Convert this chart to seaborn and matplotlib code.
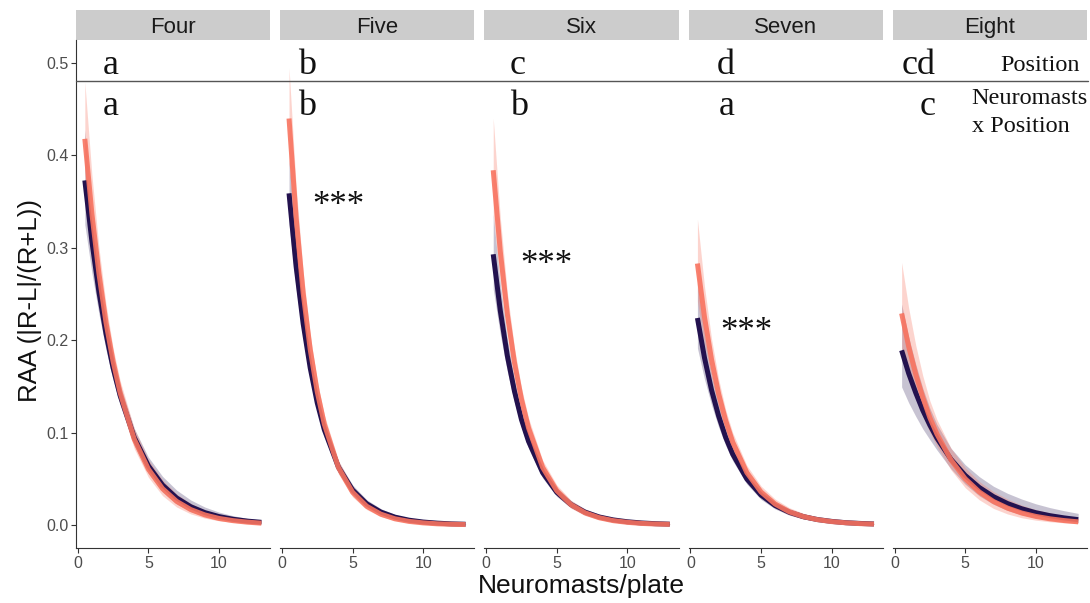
import numpy as np
import pandas as pd
import matplotlib
matplotlib.use("Agg")
import matplotlib.pyplot as plt
from matplotlib.patches import Rectangle
from matplotlib.lines import Line2D
import seaborn as sns

# ---- data -------------------------------------------------------------
PANELS = ["Four", "Five", "Six", "Seven", "Eight"]
PLATE = [0.5, 1, 1.5, 2, 2.5, 3, 4, 5, 6, 7, 8, 9, 10, 11, 12, 13]

# predicted RAA for each series (dark = series A, light = series B)
four_a = [0.373, 0.307, 0.252, 0.207, 0.170, 0.140, 0.0946, 0.0640, 0.0432, 0.0292, 0.0197, 0.0133, 0.0090, 0.0061, 0.0041, 0.0028]
four_b = [0.418, 0.337, 0.272, 0.219, 0.177, 0.143, 0.0928, 0.0604, 0.0393, 0.0255, 0.0166, 0.0108, 0.0070, 0.0046, 0.0030, 0.0019]
five_a = [0.359, 0.280, 0.218, 0.170, 0.132, 0.103, 0.0624, 0.0378, 0.0229, 0.0139, 0.0084, 0.0051, 0.0031, 0.0019, 0.0011, 0.0007]
five_b = [0.440, 0.333, 0.251, 0.190, 0.144, 0.109, 0.0620, 0.0354, 0.0202, 0.0116, 0.0066, 0.0038, 0.0022, 0.0012, 0.0007, 0.0004]
six_a = [0.293, 0.232, 0.183, 0.145, 0.114, 0.0905, 0.0565, 0.0353, 0.0221, 0.0138, 0.0086, 0.0054, 0.0034, 0.0021, 0.0013, 0.0008]
six_b = [0.384, 0.296, 0.228, 0.176, 0.136, 0.105, 0.0622, 0.0370, 0.0220, 0.0131, 0.0078, 0.0046, 0.0028, 0.0016, 0.0010, 0.0006]
seven_a = [0.224, 0.181, 0.146, 0.118, 0.0948, 0.0765, 0.0497, 0.0323, 0.0210, 0.0137, 0.0089, 0.0058, 0.0038, 0.0024, 0.0016, 0.0010]
seven_b = [0.283, 0.225, 0.179, 0.142, 0.113, 0.0896, 0.0566, 0.0357, 0.0226, 0.0142, 0.0090, 0.0057, 0.0036, 0.0023, 0.0014, 0.0009]
eight_a = [0.189, 0.164, 0.143, 0.124, 0.108, 0.0939, 0.0709, 0.0536, 0.0405, 0.0306, 0.0231, 0.0175, 0.0132, 0.0100, 0.0076, 0.0057]
eight_b = [0.229, 0.193, 0.163, 0.138, 0.116, 0.0984, 0.0702, 0.0500, 0.0357, 0.0254, 0.0182, 0.0129, 0.0092, 0.0066, 0.0047, 0.0033]

# standard errors of the predictions on the log (link) scale
four_a_se = [0.07, 0.06, 0.05, 0.045, 0.04, 0.04, 0.05, 0.07, 0.10, 0.13, 0.16, 0.19, 0.22, 0.25, 0.28, 0.31]
four_b_se = [0.07, 0.06, 0.05, 0.045, 0.04, 0.045, 0.06, 0.08, 0.11, 0.14, 0.17, 0.20, 0.23, 0.26, 0.29, 0.32]
five_a_se = [0.05, 0.045, 0.04, 0.035, 0.035, 0.04, 0.05, 0.07, 0.09, 0.12, 0.15, 0.18, 0.21, 0.24, 0.27, 0.30]
five_b_se = [0.06, 0.05, 0.045, 0.04, 0.04, 0.045, 0.06, 0.08, 0.10, 0.13, 0.16, 0.19, 0.22, 0.25, 0.28, 0.31]
six_a_se = [0.07, 0.06, 0.05, 0.045, 0.04, 0.045, 0.055, 0.07, 0.09, 0.12, 0.15, 0.18, 0.21, 0.24, 0.27, 0.30]
six_b_se = [0.07, 0.06, 0.05, 0.045, 0.045, 0.05, 0.06, 0.08, 0.10, 0.13, 0.16, 0.19, 0.22, 0.25, 0.28, 0.31]
seven_a_se = [0.08, 0.07, 0.06, 0.055, 0.05, 0.05, 0.06, 0.08, 0.10, 0.13, 0.16, 0.19, 0.22, 0.25, 0.28, 0.31]
seven_b_se = [0.08, 0.07, 0.06, 0.055, 0.05, 0.055, 0.065, 0.085, 0.11, 0.14, 0.17, 0.20, 0.23, 0.26, 0.29, 0.32]
eight_a_se = [0.12, 0.11, 0.10, 0.09, 0.08, 0.075, 0.08, 0.10, 0.13, 0.16, 0.20, 0.24, 0.28, 0.32, 0.36, 0.40]
eight_b_se = [0.11, 0.10, 0.09, 0.08, 0.075, 0.075, 0.085, 0.11, 0.14, 0.18, 0.22, 0.26, 0.30, 0.34, 0.38, 0.42]

POSITION_LETTERS = ["a", "b", "c", "d", "cd"]
INTERACTION_LETTERS = ["a", "b", "b", "a", "c"]
STARS = ["", "***", "***", "***", ""]

SERIES_A = [four_a, five_a, six_a, seven_a, eight_a]
SERIES_B = [four_b, five_b, six_b, seven_b, eight_b]
SE_A = [four_a_se, five_a_se, six_a_se, seven_a_se, eight_a_se]
SE_B = [four_b_se, five_b_se, six_b_se, seven_b_se, eight_b_se]

# ---- style ------------------------------------------------------------
sns.set_style("ticks")
SANS = ["Liberation Sans", "DejaVu Sans"]
SERIF = ["Liberation Serif", "DejaVu Serif"]
plt.rcParams["font.family"] = SANS
plt.rcParams["axes.edgecolor"] = "#333333"
plt.rcParams["axes.linewidth"] = 0.8

COL_A = "#23124f"
COL_B = "#f8735f"
palette = {"A": COL_A, "B": COL_B}

W, H = 1090, 603
fig = plt.figure(figsize=(W / 100, H / 100), dpi=100)

left_px, right_px, top_px, bottom_px = 76, 1087, 40, 548
gap_px = 10
n = len(PANELS)
panel_w = (right_px - left_px - gap_px * (n - 1)) / n
panel_h = bottom_px - top_px

axes = []
for i in range(n):
    x0 = left_px + i * (panel_w + gap_px)
    ax = fig.add_axes([x0 / W, 1 - bottom_px / H, panel_w / W, panel_h / H])
    axes.append(ax)

# text placement inside each panel (data coordinates)
pos_x = [2.3, 1.8, 2.25, 2.5, 1.72]
int_x = [2.3, 1.8, 2.3, 2.6, 2.36]
star_xy = [None, (2.18, 0.335), (2.4, 0.272), (2.15, 0.199), None]

for i, (ax, name) in enumerate(zip(axes, PANELS)):
    df = pd.concat([
        pd.DataFrame({"plate": PLATE, "raa": SERIES_A[i], "se": SE_A[i], "group": "A"}),
        pd.DataFrame({"plate": PLATE, "raa": SERIES_B[i], "se": SE_B[i], "group": "B"}),
    ], ignore_index=True)
    df["lo"] = df["raa"] * np.exp(-1.96 * df["se"])
    df["hi"] = df["raa"] * np.exp(1.96 * df["se"])

    for g, alpha in (("A", 0.25), ("B", 0.30)):
        d = df[df["group"] == g]
        ax.fill_between(d["plate"], d["lo"], d["hi"], color=palette[g],
                        alpha=alpha, linewidth=0, zorder=1)

    sns.lineplot(data=df, x="plate", y="raa", hue="group", hue_order=["A", "B"],
                 palette=palette, estimator=None, sort=False, legend=False,
                 linewidth=3.6, ax=ax, zorder=2)
    for ln in ax.get_lines():
        ln.set_solid_capstyle("butt")
    if len(ax.get_lines()) > 1:
        ax.get_lines()[1].set_alpha(0.9)

    ax.set_xlim(-0.125, 13.625)
    ax.set_ylim(-0.025, 0.525)
    ax.set_xticks([0, 5, 10])
    ax.set_xlabel("")
    ax.set_ylabel("")
    ax.tick_params(axis="both", length=3.5, width=0.8, color="#333333",
                   labelsize=11.5, labelcolor="#4d4d4d", pad=2)
    for s in ("top", "right"):
        ax.spines[s].set_visible(False)
    if i == 0:
        ax.set_yticks([0.0, 0.1, 0.2, 0.3, 0.4, 0.5])
        ax.set_yticklabels(["0.0", "0.1", "0.2", "0.3", "0.4", "0.5"])
    else:
        ax.spines["left"].set_visible(False)
        ax.set_yticks([])

    # facet strip
    strip_h = 30 / panel_h
    ax.add_patch(Rectangle((0, 1), 1, strip_h, transform=ax.transAxes,
                           facecolor="#cccccc", edgecolor="none", clip_on=False))
    ax.text(0.5, 1 + strip_h / 2, name, transform=ax.transAxes, ha="center",
            va="center_baseline", fontsize=16, color="#1a1a1a")

    # compact letter displays
    ax.text(pos_x[i], 0.488, POSITION_LETTERS[i], ha="center", va="baseline",
            fontsize=26, family=SERIF, color="#111111", clip_on=False)
    ax.text(int_x[i], 0.444, INTERACTION_LETTERS[i], ha="center", va="baseline",
            fontsize=26, family=SERIF, color="#111111", clip_on=False)
    if STARS[i]:
        sx, sy = star_xy[i]
        ax.text(sx, sy, STARS[i], ha="left", va="baseline", fontsize=25,
                family=SERIF, color="#111111")

# row labels on the last panel
axes[-1].text(13.13, 0.491, "Position", ha="right", va="baseline",
              fontsize=17.5, family=SERIF, color="#111111", clip_on=False)
axes[-1].text(5.46, 0.456, "Neuromasts", ha="left", va="baseline",
              fontsize=17.5, family=SERIF, color="#111111", clip_on=False)
axes[-1].text(5.46, 0.425, "x Position", ha="left", va="baseline",
              fontsize=17.5, family=SERIF, color="#111111", clip_on=False)

# separator between the two rows of letters
y_sep = 1 - 80.7 / H
fig.add_artist(Line2D([left_px / W, 1088 / W], [y_sep, y_sep],
                      color="#555555", linewidth=1.0))

fig.text(30 / W, 1 - 300 / H, "RAA (|R-L|/(R+L))", rotation=90,
         ha="center", va="center", fontsize=18.5, color="#111111")
fig.text(581 / W, 1 - 586 / H, "Neuromasts/plate", ha="center",
         va="center", fontsize=19, color="#111111")

fig.savefig("out.png", dpi=100)
